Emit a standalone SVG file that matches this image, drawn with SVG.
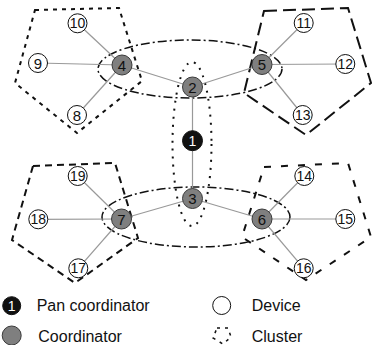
<svg xmlns="http://www.w3.org/2000/svg" width="372" height="345" viewBox="0 0 372 345">
<style>
.link{stroke:#999;stroke-width:1.2;fill:none}
.coord{fill:#7f7f7f;stroke:#3a3a3a;stroke-width:1}
.dev{fill:#fff;stroke:#111;stroke-width:1}
.pan{fill:#111;stroke:#111;stroke-width:1}
.lbl{font-family:"Liberation Sans",Arial,sans-serif;font-size:15px;text-anchor:middle;fill:#111}
.lbl2{font-family:"Liberation Sans",Arial,sans-serif;font-size:14px;text-anchor:middle;fill:#111}
.lblw{font-family:"Liberation Sans",Arial,sans-serif;font-size:14px;text-anchor:middle;fill:#fff}
.leg{font-family:"Liberation Sans",Arial,sans-serif;font-size:16px;fill:#111}
.cl{fill:none;stroke:#111;stroke-width:2}
.dd{fill:none;stroke:#111;stroke-width:1.5;stroke-dasharray:9,3,2,3}
.dot{fill:none;stroke:#111;stroke-width:2;stroke-dasharray:2,6}
</style>
<g id="clusters">
<polygon id="cluster-tl" class="cl" stroke-dasharray="4,5" points="35,10 119,8 142,81 77,133 15,83"/>
<polygon id="cluster-tr" class="cl" stroke-dasharray="13,6" points="264,11 348,8 371,83 306,135 244,93"/>
<polygon id="cluster-bl" class="cl" stroke-dasharray="7,5" points="33,166 115,163 138,238 75,283 12,240"/>
<polygon id="cluster-br" class="cl" stroke-dasharray="7,10" points="264,167 348,163 371,237 306,280 242,237"/>
</g>
<g id="groups">
<ellipse class="dd" cx="190" cy="69" rx="92" ry="29"/>
<ellipse class="dd" cx="196" cy="217" rx="94" ry="30"/>
<ellipse class="dot" cx="192" cy="144" rx="19.5" ry="82"/>
</g>
<g id="connectors">
<line class="link" x1="192.5" y1="87" x2="192.5" y2="198.5"/>
<line class="link" x1="192.5" y1="87" x2="122" y2="65"/>
<line class="link" x1="192.5" y1="87" x2="262" y2="64.5"/>
<line class="link" x1="192.5" y1="198.5" x2="121.5" y2="219"/>
<line class="link" x1="192.5" y1="198.5" x2="262" y2="219"/>
<line class="link" x1="122" y1="65" x2="77.5" y2="23.3"/>
<line class="link" x1="122" y1="65" x2="38" y2="63"/>
<line class="link" x1="122" y1="65" x2="77" y2="115"/>
<line class="link" x1="262" y1="64.5" x2="303.7" y2="23"/>
<line class="link" x1="262" y1="64.5" x2="345.3" y2="64"/>
<line class="link" x1="262" y1="64.5" x2="302.7" y2="115"/>
<line class="link" x1="121.5" y1="219" x2="77.7" y2="176"/>
<line class="link" x1="121.5" y1="219" x2="38.3" y2="219.3"/>
<line class="link" x1="121.5" y1="219" x2="78.3" y2="268.3"/>
<line class="link" x1="262" y1="219" x2="304.3" y2="176"/>
<line class="link" x1="262" y1="219" x2="345.3" y2="219"/>
<line class="link" x1="262" y1="219" x2="303.7" y2="268.3"/>
</g>
<g id="n1"><circle class="pan" cx="192.5" cy="140.7" r="10"/><text class="lblw" x="192.5" y="145.7">1</text></g>
<g id="n2"><circle class="coord" cx="192.5" cy="87" r="10"/><text class="lbl" x="192.5" y="92.5">2</text></g>
<g id="n3"><circle class="coord" cx="192.5" cy="198.5" r="10"/><text class="lbl" x="192.5" y="204">3</text></g>
<g id="n4"><circle class="coord" cx="122" cy="65" r="10"/><text class="lbl" x="122" y="70.5">4</text></g>
<g id="n5"><circle class="coord" cx="262" cy="64.5" r="10"/><text class="lbl" x="262" y="70">5</text></g>
<g id="n6"><circle class="coord" cx="262" cy="219" r="10"/><text class="lbl" x="262" y="224.5">6</text></g>
<g id="n7"><circle class="coord" cx="121.5" cy="219" r="10"/><text class="lbl" x="121.5" y="224.5">7</text></g>
<g id="n8"><circle class="dev" cx="77" cy="115" r="9.5"/><text class="lbl" x="77" y="120.5">8</text></g>
<g id="n9"><circle class="dev" cx="38" cy="63" r="9.5"/><text class="lbl" x="38" y="68.5">9</text></g>
<g id="n10"><circle class="dev" cx="77.5" cy="23.3" r="9.5"/><text class="lbl2" x="77.5" y="28.3">10</text></g>
<g id="n11"><circle class="dev" cx="303.7" cy="23" r="9.5"/><text class="lbl2" x="303.7" y="28">11</text></g>
<g id="n12"><circle class="dev" cx="345.3" cy="64" r="9.5"/><text class="lbl2" x="345.3" y="69">12</text></g>
<g id="n13"><circle class="dev" cx="302.7" cy="115" r="9.5"/><text class="lbl2" x="302.7" y="120">13</text></g>
<g id="n14"><circle class="dev" cx="304.3" cy="176" r="9.5"/><text class="lbl2" x="304.3" y="181">14</text></g>
<g id="n15"><circle class="dev" cx="345.3" cy="219" r="9.5"/><text class="lbl2" x="345.3" y="224">15</text></g>
<g id="n16"><circle class="dev" cx="303.7" cy="268.3" r="9.5"/><text class="lbl2" x="303.7" y="273.3">16</text></g>
<g id="n17"><circle class="dev" cx="78.3" cy="268.3" r="9.5"/><text class="lbl2" x="78.3" y="273.3">17</text></g>
<g id="n18"><circle class="dev" cx="38.3" cy="219.3" r="9.5"/><text class="lbl2" x="38.3" y="224.3">18</text></g>
<g id="n19"><circle class="dev" cx="77.7" cy="176" r="9.5"/><text class="lbl2" x="77.7" y="181">19</text></g>
<g id="legend">
<circle class="pan" cx="11.7" cy="305.7" r="9"/><text class="lblw" x="11.7" y="310.7">1</text>
<text class="leg" x="36.7" y="311">Pan coordinator</text>
<circle class="coord" cx="11.7" cy="335.5" r="9.5"/>
<text class="leg" x="38.3" y="342">Coordinator</text>
<circle class="dev" cx="221.7" cy="305.5" r="9"/>
<text class="leg" x="251.7" y="311">Device</text>
<polygon fill="none" stroke="#111" stroke-width="1.5" stroke-dasharray="3,5" points="217,328 228,328 231,337 223,344 213,338"/>
<text class="leg" x="251.7" y="342">Cluster</text>
</g>
</svg>
